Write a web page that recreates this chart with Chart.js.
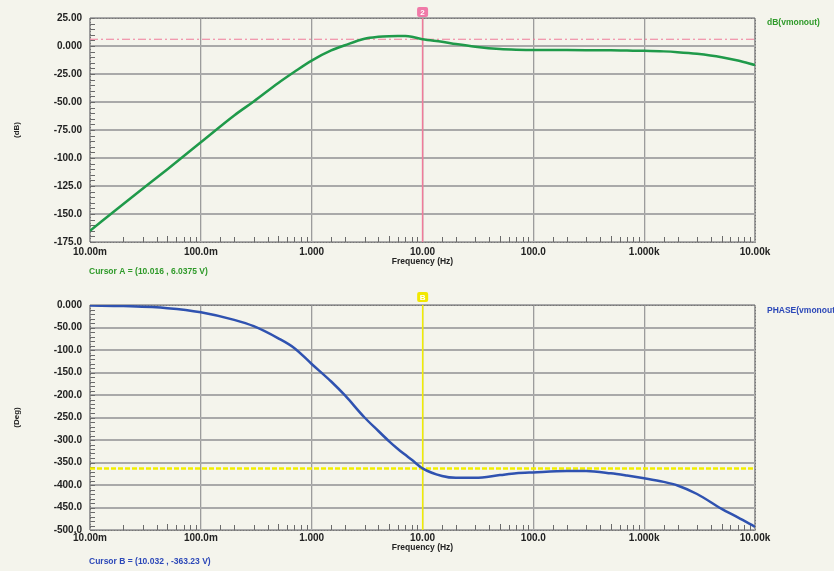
<!DOCTYPE html>
<html lang="en">
<head>
<meta charset="UTF-8">
<title>AC analysis - vmonout</title>
<script src="https://cdn.jsdelivr.net/npm/chart.js@4"></script>
<style>
  html, body { margin: 0; padding: 0; background: #f4f4ec; }
  .wrap { position: relative; width: 834px; height: 571px; overflow: hidden; }
  canvas { position: absolute; left: 0; }
  #magChart { top: 0; }
  #phaseChart { top: 285px; }
</style>
</head>
<body>
<div class="wrap">
  <canvas id="magChart" width="834" height="285"></canvas>
  <canvas id="phaseChart" width="834" height="286"></canvas>
</div>
<script>
// frequency points (Hz)
const freq = [0.01, 0.02, 0.05, 0.1, 0.2, 0.3, 0.5, 0.7, 1, 1.5, 2, 3, 4, 5, 6, 7, 8, 10,
  15, 20, 30, 50, 70, 100, 200, 300, 500, 700, 1000, 1500, 2000, 3000, 5000, 7000, 10000]
// dB(vmonout)
const magDb = [-165, -141, -110, -86, -62, -49.5, -33, -23, -13, -4, 0.7, 6.5, 8.2, 8.8, 9, 8.9, 8.2, 6.04,
  3.8, 1.8, -0.6, -2.7, -3.3, -3.5, -3.6, -3.7, -3.9, -4.1, -4.3, -4.8, -5.5, -7, -10, -13, -17]
// PHASE(vmonout), degrees
const phaseDeg = [-1, -2.5, -7, -16, -33, -47, -74, -96, -131, -170, -201, -250, -280, -303, -320, -333, -344, -363,
  -380, -384, -384, -378, -374, -372, -369, -369, -374, -379, -385, -393, -401, -420, -453, -472, -493]

const cursorA = { x: 10.016, y: 6.0375 }
const cursorB = { x: 10.032, y: -363.23 }

const FONT = 'Liberation Sans'

function isDecade(v) {
  if (!v) return false
  const l = Math.log10(v)
  return Math.abs(l - Math.round(l)) < 1e-6
}

function fmtFreq(v) {
  if (v >= 1000) return (v / 1000).toPrecision(4) + 'k'
  if (v < 1) return (v * 1000).toPrecision(4) + 'm'
  return v.toPrecision(4)
}

// frame, minor ticks, cursor marker and the texts round the plot
const decor = {
  id: 'decor',
  beforeDatasetsDraw(chart, args, o) {
    const { ctx, chartArea: a, scales: { x, y } } = chart
    ctx.save()
    ctx.strokeStyle = '#6a6a6a'
    ctx.lineWidth = 1
    ctx.beginPath()
    x.ticks.forEach(t => {
      if (isDecade(t.value)) return
      const px = Math.round(x.getPixelForValue(t.value)) + 0.5
      ctx.moveTo(px, a.bottom)
      ctx.lineTo(px, a.bottom - (Math.abs(t.value / Math.pow(10, Math.floor(Math.log10(t.value) + 1e-9)) - 5) < 1e-6 ? 6 : 5))
    })
    for (let v = y.min; v <= y.max; v += o.yMinor) {
      const py = Math.round(y.getPixelForValue(v)) + 0.5
      ctx.moveTo(a.left, py)
      ctx.lineTo(a.left + 5, py)
    }
    ctx.stroke()
    ctx.strokeStyle = '#777'
    ctx.setLineDash([2, 1])
    ctx.strokeRect(a.left + 0.5, a.top + 0.5, a.right - a.left, a.bottom - a.top)
    ctx.restore()
  },
  afterDraw(chart, args, o) {
    const { ctx, chartArea: a, scales: { x } } = chart
    ctx.save()
    // cursor marker
    const cx = x.getPixelForValue(o.cursorX)
    ctx.fillStyle = o.markColor
    ctx.beginPath()
    ctx.roundRect(cx - 5.5, 7, 11, 10, 2)
    ctx.fill()
    ctx.fillStyle = '#fff'
    ctx.font = 'bold 8px ' + FONT
    ctx.textAlign = 'center'
    ctx.textBaseline = 'middle'
    ctx.fillText(o.markText, cx, 12.5)
    // y title
    ctx.fillStyle = '#222'
    ctx.font = 'bold 8px ' + FONT
    ctx.translate(17, (a.top + a.bottom) / 2)
    ctx.rotate(-Math.PI / 2)
    ctx.fillText(o.yTitle, 0, 0)
    ctx.setTransform(1, 0, 0, 1, 0, 0)
    // x title
    ctx.fillStyle = '#222'
    ctx.font = 'bold 8.5px ' + FONT
    ctx.fillText('Frequency (Hz)', x.getPixelForValue(10), o.xTitleY)
    // series name
    ctx.textAlign = 'left'
    ctx.fillStyle = o.textColor
    ctx.fillText(o.seriesName, 767, o.seriesY)
    // cursor readout
    ctx.fillText(o.cursorText, 89, o.cursorTextY)
    ctx.restore()
  }
}

function makeChart(id, cfg) {
  const grid = '#a9a9a9'
  return new Chart(document.getElementById(id), {
    type: 'line',
    data: {
      datasets: [
        {
          data: [{ x: freq[0], y: cfg.cursor.y }, { x: freq[freq.length - 1], y: cfg.cursor.y }],
          borderColor: cfg.hColor, borderWidth: cfg.hWidth, borderDash: cfg.hDash,
          pointRadius: 0, order: 3
        },
        {
          data: [{ x: cfg.cursor.x, y: cfg.yMin }, { x: cfg.cursor.x, y: cfg.yMax }],
          borderColor: cfg.vColor, borderWidth: 1.5,
          pointRadius: 0, order: 2
        },
        {
          data: freq.map((f, i) => ({ x: f, y: cfg.values[i] })),
          borderColor: cfg.color, borderWidth: 2.5,
          cubicInterpolationMode: 'monotone',
          pointRadius: 0, order: 1
        }
      ]
    },
    options: {
      responsive: false,
      animation: false,
      layout: { padding: { left: 0, right: 79, top: cfg.top, bottom: 0 } },
      plugins: {
        legend: { display: false },
        tooltip: { enabled: false },
        decor: cfg.decor
      },
      scales: {
        x: {
          type: 'logarithmic',
          min: 0.01,
          max: 10000,
          afterFit: s => { s.height = cfg.xHeight },
          grid: {
            drawTicks: false,
            color: c => isDecade(c.tick && c.tick.value) ? '#9c9c9c' : 'rgba(0,0,0,0)',
            lineWidth: 1.3
          },
          border: { display: false },
          ticks: {
            autoSkip: false,
            maxRotation: 0,
            padding: cfg.xPad,
            color: '#222',
            font: { family: FONT, size: 10, weight: 'bold' },
            callback: v => isDecade(v) ? fmtFreq(v) : ''
          }
        },
        y: {
          min: cfg.yMin,
          max: cfg.yMax,
          afterFit: s => { s.width = 90 },
          grid: { drawTicks: false, color: grid, lineWidth: 2 },
          border: { display: false },
          ticks: {
            stepSize: cfg.yStep,
            padding: 8,
            color: '#222',
            font: { family: FONT, size: 10, weight: 'bold' },
            callback: v => Number(v).toPrecision(4)
          }
        }
      }
    },
    plugins: [decor]
  })
}

makeChart('magChart', {
  values: magDb, color: '#1f9a4a', cursor: cursorA,
  yMin: -175, yMax: 25, yStep: 25, top: 18, xHeight: 43, xPad: 4,
  hColor: '#f07a9a', hWidth: 1, hDash: [8, 3, 2, 3], vColor: '#f07a9a',
  decor: {
    yMinor: 5, cursorX: cursorA.x, markColor: '#f07aa8', markText: '2',
    yTitle: '(dB)', xTitleY: 262, seriesName: 'dB(vmonout)', seriesY: 23,
    textColor: '#2f9a2a', cursorText: 'Cursor A = (10.016 , 6.0375 V)', cursorTextY: 272
  }
})

makeChart('phaseChart', {
  values: phaseDeg, color: '#2f52b0', cursor: cursorB,
  yMin: -500, yMax: 0, yStep: 50, top: 20, xHeight: 41, xPad: 2,
  hColor: '#f2ee00', hWidth: 2.5, hDash: [5, 2], vColor: '#f2ee00',
  decor: {
    yMinor: 10, cursorX: cursorB.x, markColor: '#f2e800', markText: 'B',
    yTitle: '(Deg)', xTitleY: 263, seriesName: 'PHASE(vmonout)', seriesY: 26,
    textColor: '#2c48b8', cursorText: 'Cursor B = (10.032 , -363.23 V)', cursorTextY: 277
  }
})
</script>
</body>
</html>
